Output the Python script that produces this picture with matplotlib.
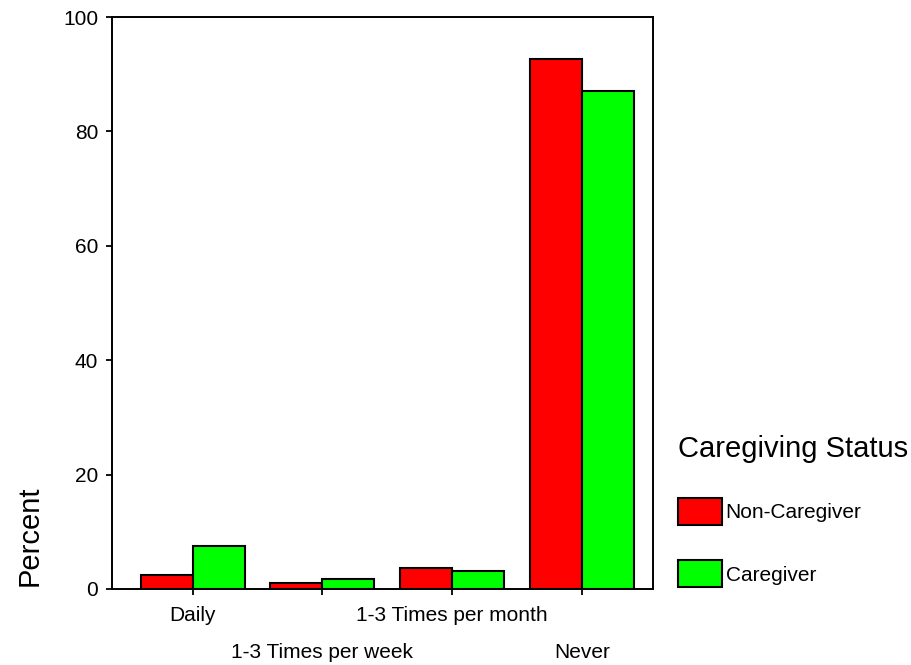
import matplotlib.pyplot as plt
import numpy as np

plt.rcParams['font.family'] = ['Liberation Sans', 'DejaVu Sans']

frequencias = ["Daily", "1-3 Times per week", "1-3 Times per month", "Never"]
grupos = ["Non-Caregiver", "Caregiver"]
nao_cuidador = [2.5, 1.0, 3.6, 92.6]
cuidador = [7.6, 1.7, 3.2, 87.0]
cores = ["#ff0000", "#00ff00"]

fig = plt.figure(figsize=(9.11, 6.65), dpi=100)
ax = fig.add_axes([0.1229, 0.1143, 0.594, 0.860])

x = np.arange(len(frequencias))
largura = 0.4
b1 = ax.bar(x - largura / 2, nao_cuidador, largura, color=cores[0],
            edgecolor="black", linewidth=1.5, label=grupos[0])
b2 = ax.bar(x + largura / 2, cuidador, largura, color=cores[1],
            edgecolor="black", linewidth=1.5, label=grupos[1])

ax.set_xlim(-0.622, 3.55)
ax.set_ylim(0, 100)
ax.set_yticks([0, 20, 40, 60, 80, 100])
ax.set_xticks(x)
ax.set_xticklabels(frequencias)
for s in ax.spines.values():
    s.set_linewidth(1.4)
ax.tick_params(axis='both', labelsize=15, length=4, width=1.3, direction='out')
ax.tick_params(axis='y', pad=6)

# rotulos alternados em duas linhas
for i, tick in enumerate(ax.xaxis.get_major_ticks()):
    tick.set_pad(8 if i % 2 == 0 else 35)

fig.text(30 / 911, 1 - 536 / 665, "Percent", rotation=90, fontsize=21,
         ha='center', va='center')

leg = fig.legend(handles=[b1, b2], loc='upper left',
                 bbox_to_anchor=(668 / 911, 1 - 425 / 665),
                 title="Caregiving Status", title_fontsize=21, fontsize=15,
                 frameon=False, borderpad=0, handlelength=2.07,
                 handleheight=1.6, handletextpad=0.2, labelspacing=1.7,
                 alignment='left')
leg._legend_box.sep = 25

plt.savefig('out.png', dpi=100)
